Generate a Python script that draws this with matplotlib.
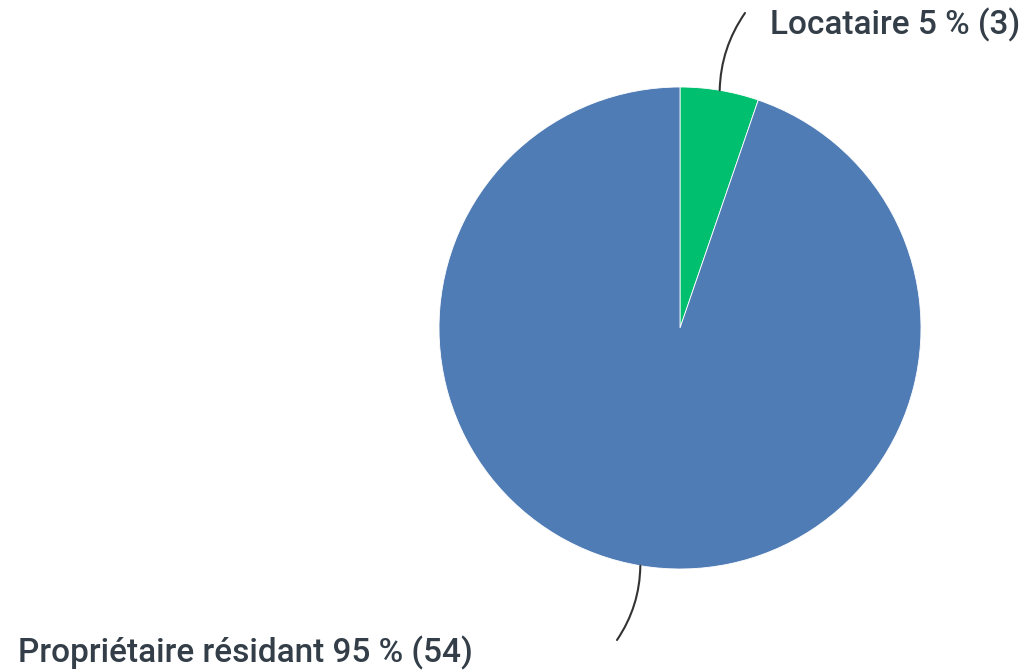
import numpy as np
import matplotlib.pyplot as plt

# data
labels = ['Locataire', 'Propriétaire résidant']
counts = [3, 54]
colors = ['#00BF6F', '#507CB6']

total = sum(counts)
pcts = [round(100 * c / total) for c in counts]

W, H = 1030, 670
fig = plt.figure(figsize=(10.3, 6.7), dpi=100)
ax = fig.add_axes([0, 0, 1, 1])

# pixel-ish coords, y measured from the top
cx, cy, r = 680, 328, 241
wedges, _ = ax.pie(counts, colors=colors, startangle=90, counterclock=False,
                   center=(cx, H - cy), radius=r, frame=True,
                   wedgeprops=dict(edgecolor='white', linewidth=0.6))
ax.set_xlim(0, W)
ax.set_ylim(0, H)
ax.set_aspect('equal')
ax.axis('off')

# label positions (text anchor, line end), y from top
text_pos = [(770, 25), (18, 653)]
line_end = [(745, 13), (617, 640)]
rads = [-0.15, -0.15]

for w, lab, p, c, tp, le, rad in zip(wedges, labels, pcts, counts, text_pos, line_end, rads):
    ang = np.deg2rad((w.theta1 + w.theta2) / 2)
    x0 = cx + r * np.cos(ang)
    y0 = (H - cy) + r * np.sin(ang)
    ax.annotate('', xy=(le[0], H - le[1]), xytext=(x0, y0),
                arrowprops=dict(arrowstyle='-', color='#333333', lw=1.5,
                                connectionstyle='arc3,rad=%s' % rad,
                                shrinkA=0, shrinkB=0))
    ax.text(tp[0], H - tp[1], '%s %d %% (%d)' % (lab, p, c), fontsize=24,
            family='Roboto', fontweight='medium', color='#333e48',
            ha='left', va='center')

fig.savefig('out.png', dpi=100)
